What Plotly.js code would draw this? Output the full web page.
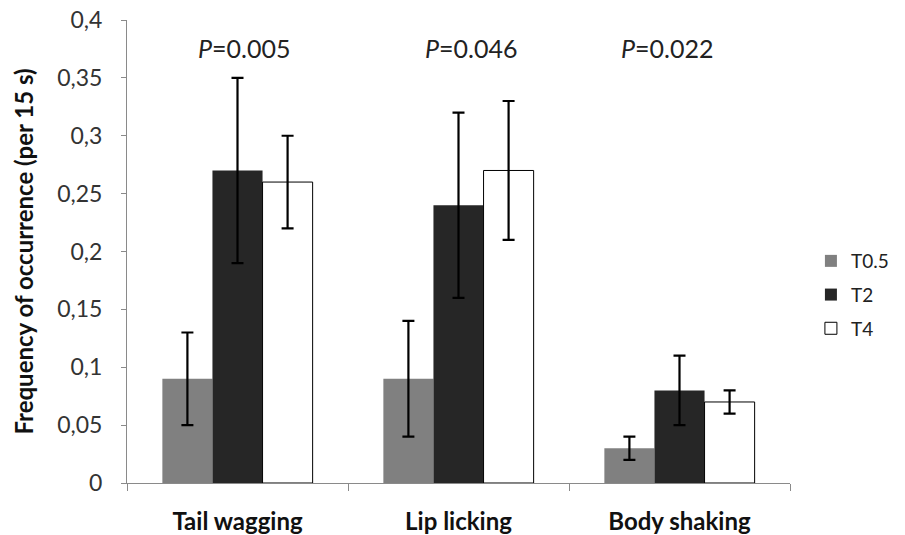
<!DOCTYPE html>
<html><head><meta charset="utf-8">
<script src="https://cdn.plot.ly/plotly-3.0.1.min.js"></script>
<style>body{margin:0;background:#fff}#c{width:905px;height:535px}</style>
</head><body><div id="c"></div>
<script>
var categories = ["Tail wagging", "Lip licking", "Body shaking"];
var seriesNames = ["T0.5", "T2", "T4"];
var t05 = [0.09, 0.09, 0.03];
var t05Err = [0.04, 0.05, 0.01];
var t2 = [0.27, 0.24, 0.08];
var t2Err = [0.08, 0.08, 0.03];
var t4 = [0.26, 0.27, 0.07];
var t4Err = [0.04, 0.06, 0.01];
var pLabels = ["0.005", "0.046", "0.022"];
var pY = 0.376;
var pShift = [6, 12, -13];

var font = "Lato, 'Open Sans', sans-serif";
function errbar(arr){return {type:'data', array:arr, visible:true, color:'#000', thickness:2.2, width:6};}
var traces = [
  {type:'bar', name:seriesNames[0], legendgroup:'g0', x:categories, y:t05, error_y:errbar(t05Err),
   marker:{color:'#808080', line:{color:'#808080', width:0}}},
  {type:'bar', name:seriesNames[1], legendgroup:'g1', x:categories, y:t2, error_y:errbar(t2Err),
   marker:{color:'#262626', line:{color:'#262626', width:0}}},
  {type:'bar', name:seriesNames[2], legendgroup:'g2', x:categories, y:t4, error_y:errbar(t4Err),
   marker:{color:'#ffffff', line:{color:'#000000', width:1}}}
];
var annotations = categories.map(function(c,i){
  return {x:c, y:pY, xref:'x', yref:'y', text:'<i>P</i>=' + pLabels[i], showarrow:false,
    xshift:pShift[i], font:{family:font, size:25, color:'#222'}};
});
var layout = {
  width:905, height:535,
  margin:{l:127, r:114, t:20, b:52},
  paper_bgcolor:'#fff', plot_bgcolor:'#fff',
  separators:', ',
  barmode:'group', bargap:0.32, bargroupgap:0,
  showlegend:true,
  legend:{x:1.03, y:0.406, yanchor:'middle', xanchor:'left', font:{family:font, size:19, color:'#222'},
    tracegroupgap:6, itemwidth:30},
  font:{family:font, color:'#222'},
  xaxis:{type:'category', showline:true, linecolor:'#8a8a8a', linewidth:1,
    ticks:'outside', tickson:'boundaries', ticklen:7, tickcolor:'#8a8a8a',
    tickfont:{family:font, size:24, color:'#111', weight:'bold'}, ticklabelstandoff:17,
    showgrid:false, zeroline:false},
  yaxis:{range:[0,0.4], dtick:0.05, showline:true, linecolor:'#8a8a8a', linewidth:1,
    ticks:'outside', ticklen:5, tickcolor:'#8a8a8a', showgrid:false, zeroline:false,
    tickfont:{family:font, size:23, color:'#333'}, ticklabelstandoff:14,
    title:{text:'<b>Frequency of occurrence (per 15 s)</b>', font:{family:font, size:24, color:'#111'}, standoff:16}},
  annotations:annotations
};
Plotly.newPlot('c', traces, layout, {displayModeBar:false, staticPlot:true});
</script></body></html>
